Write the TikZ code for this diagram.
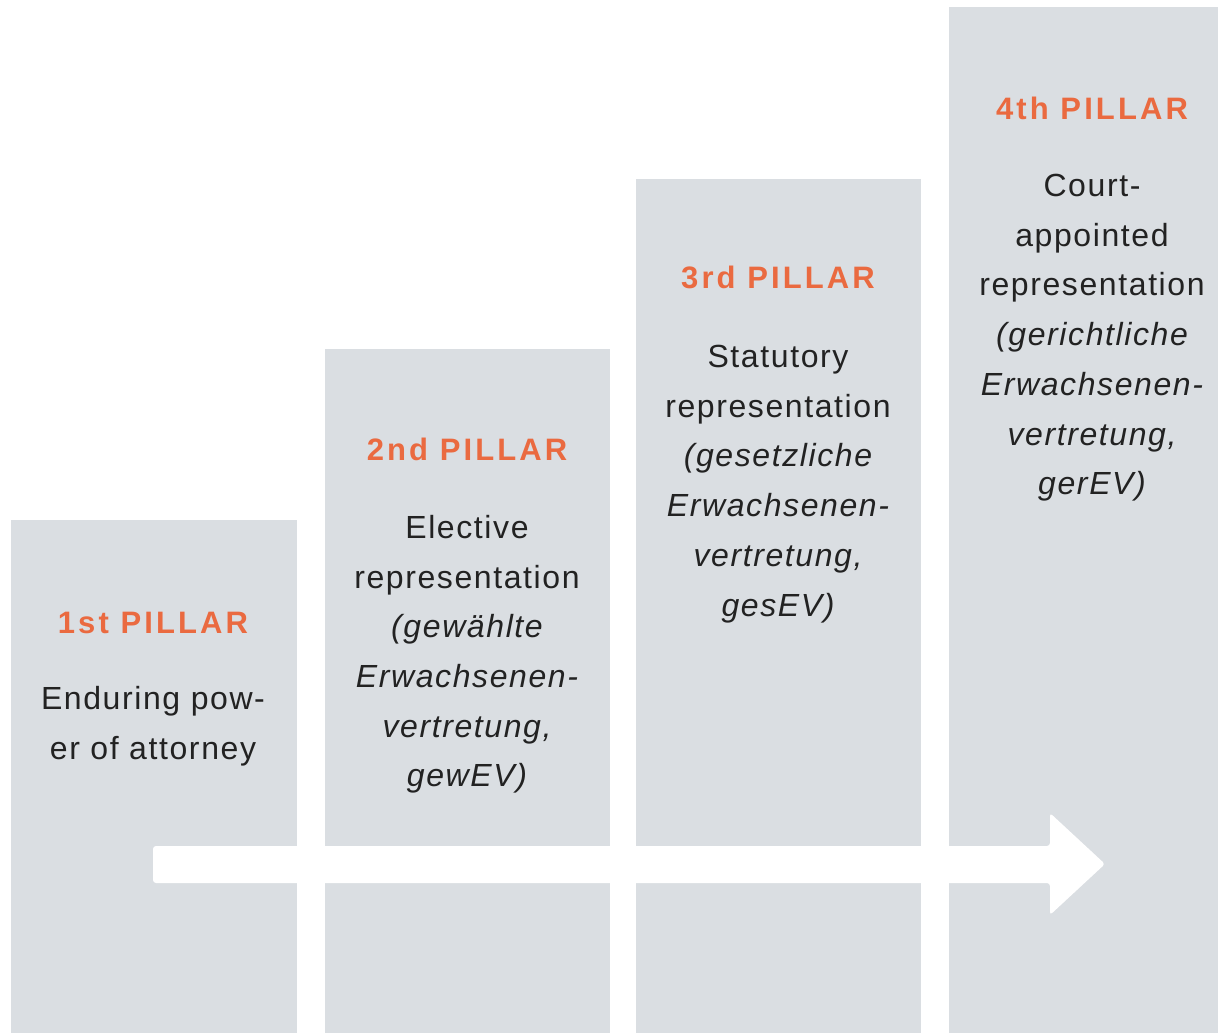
\documentclass[tikz,border=0pt]{standalone}
\usepackage{fontspec}
\setmainfont{Liberation Sans}
\newfontfamily\titlefont[LetterSpace=10]{Liberation Sans}
\newfontfamily\bodyfont[LetterSpace=5]{Liberation Sans}
\definecolor{pgray}{HTML}{DADEE2}
\definecolor{porange}{HTML}{EA6A40}
\definecolor{ptext}{HTML}{222222}
\begin{document}
\begin{tikzpicture}[x=1pt,y=-1pt,
  pillar/.style={fill=pgray},
  ptitle/.style={font=\titlefont\bfseries\fontsize{31}{31}\selectfont, text=porange, anchor=base, inner sep=0pt},
  pbody/.style={font=\bodyfont\fontsize{32}{49.7}\selectfont, text=ptext, align=center, anchor=north, inner sep=0pt},
  flow/.style={fill=white, rounded corners=3pt}]
\useasboundingbox (0,0) rectangle (1218,1033);
% pillars
\fill[pillar] (11,520) rectangle (297,1033);
\fill[pillar] (325,349) rectangle (610,1033);
\fill[pillar] (636,179) rectangle (921,1033);
\fill[pillar] (949,7) rectangle (1218,1033);
% arrow
\fill[flow] (153,846) -- (1050,846) -- (1050,813) -- (1105,864) -- (1050,915) -- (1050,883) -- (153,883) -- cycle;
% titles
\node[ptitle] (t1) at (153,633) {1st PILLAR};
\node[ptitle] (t2) at (467,460) {2nd PILLAR};
\node[ptitle] (t3) at (778,288) {3rd PILLAR};
\node[ptitle] (t4) at (1092,119) {4th PILLAR};
% bodies
\node[pbody] (b1) at (153,686) {Enduring pow-\\er of attorney};
\node[pbody] (b2) at (467,515) {Elective\\representation\\\itshape(gewählte\\\itshape Erwachsenen-\\\itshape vertretung,\\\itshape gewEV)};
\node[pbody] (b3) at (778,345) {Statutory\\representation\\\itshape(gesetzliche\\\itshape Erwachsenen-\\\itshape vertretung,\\\itshape gesEV)};
\node[pbody] (b4) at (1092,174) {Court-\\appointed\\representation\\\itshape(gerichtliche\\\itshape Erwachsenen-\\\itshape vertretung,\\\itshape gerEV)};
\end{tikzpicture}
\end{document}
